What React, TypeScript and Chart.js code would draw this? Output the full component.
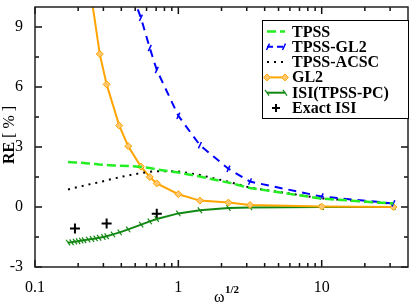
import React, { useEffect, useRef } from 'react';
import { Chart, registerables } from 'chart.js';

Chart.register(...registerables);

const FONT = '"Liberation Serif", "Times New Roman", serif';

// x values are omega^(1/2)
const X_FINE = [0.17, 0.18, 0.19, 0.2, 0.21, 0.22, 0.235, 0.25, 0.265, 0.28, 0.3, 0.316, 0.35, 0.39, 0.447, 0.55, 0.632, 0.707, 1, 1.414, 2.236, 3.162, 10, 31.62];
const TPSS = [2.25, 2.24, 2.23, 2.22, 2.21, 2.2, 2.18, 2.16, 2.15, 2.13, 2.11, 2.1, 2.08, 2.06, 2.05, 2.0, 1.95, 1.88, 1.72, 1.52, 1.22, 0.95, 0.42, 0.17];
const ACSC = [0.88, 0.92, 0.96, 1.0, 1.04, 1.07, 1.12, 1.16, 1.2, 1.24, 1.29, 1.33, 1.41, 1.49, 1.58, 1.7, 1.76, 1.79, 1.78, 1.6, 1.26, 0.97, 0.43, 0.17];
const ISI = [-1.78, -1.76, -1.73, -1.71, -1.68, -1.66, -1.63, -1.6, -1.57, -1.54, -1.5, -1.46, -1.37, -1.27, -1.12, -0.88, -0.72, -0.6, -0.32, -0.16, -0.05, -0.02, 0, 0];

const X_GL2 = [0.2, 0.283, 0.316, 0.387, 0.447, 0.548, 0.632, 0.707, 1, 1.414, 2.236, 3.162, 10, 31.62];
const GL2 = [15, 7.65, 6.13, 4.07, 3.04, 2.02, 1.5, 1.18, 0.64, 0.32, 0.22, 0.1, 0.02, 0];

const X_TGL2 = [0.447, 0.548, 0.632, 0.707, 1, 1.414, 2.236, 3.162, 10, 31.62];
const TGL2 = [11.2, 9.46, 7.95, 6.85, 4.56, 3.09, 1.91, 1.27, 0.52, 0.18];

const X_EXACT = [0.19, 0.316, 0.707];
const EXACT = [-1.08, -0.83, -0.34];

const X_MAJOR = [0.1, 1, 10];
const X_MINOR = [0.2, 0.3, 0.4, 0.5, 0.6, 0.7, 0.8, 0.9, 2, 3, 4, 5, 6, 7, 8, 9, 20, 30];
const Y_MAJOR = [-3, 0, 3, 6, 9];
const Y_MINOR = [-1.5, 1.5, 4.5, 7.5];

const LEGEND = ['TPSS', 'TPSS-GL2', 'TPSS-ACSC', 'GL2', 'ISI(TPSS-PC)', 'Exact ISI'];

const C_TPSS = '#22ee22';
const C_TGL2 = '#0000ff';
const C_ACSC = '#000000';
const C_GL2 = '#ffa500';
const C_ISI = '#118811';

function pts(xs: number[], ys: number[]) {
  return xs.map((x, i) => ({ x, y: ys[i] }));
}

function seg(ctx: CanvasRenderingContext2D, x1: number, y1: number, x2: number, y2: number) {
  ctx.beginPath();
  ctx.moveTo(x1, y1);
  ctx.lineTo(x2, y2);
  ctx.stroke();
}

function slash(ctx: CanvasRenderingContext2D, x: number, y: number, r: number, deg: number) {
  const a = (deg * Math.PI) / 180;
  seg(ctx, x - r * Math.cos(a), y - r * Math.sin(a), x + r * Math.cos(a), y + r * Math.sin(a));
}

function diamond(ctx: CanvasRenderingContext2D, x: number, y: number, r: number) {
  ctx.beginPath();
  ctx.moveTo(x, y - r);
  ctx.lineTo(x + r, y);
  ctx.lineTo(x, y + r);
  ctx.lineTo(x - r, y);
  ctx.closePath();
  ctx.fill();
  ctx.stroke();
}

function noPad(s: any) {
  s.paddingTop = 0;
  s.paddingBottom = 0;
  s.paddingLeft = 0;
  s.paddingRight = 0;
}

function xPix(xs: any, a: any, v: number) {
  const p = xs.getPixelForValue(v);
  if (Number.isFinite(p)) return p;
  const lo = Math.log10(xs.min);
  const hi = Math.log10(xs.max);
  return a.left + ((Math.log10(v) - lo) / (hi - lo)) * (a.right - a.left);
}

function yPix(ys: any, a: any, v: number) {
  const p = ys.getPixelForValue(v);
  if (Number.isFinite(p)) return p;
  return a.bottom - ((v - ys.min) / (ys.max - ys.min)) * (a.bottom - a.top);
}

const ticksPlugin = {
  id: 'inwardTicks',
  afterDatasetsDraw(chart: any) {
    const ctx: CanvasRenderingContext2D = chart.ctx;
    const a = chart.chartArea;
    const xs = chart.scales.x;
    const ys = chart.scales.y;
    ctx.save();
    ctx.globalAlpha = 1;
    ctx.globalCompositeOperation = 'source-over';
    ctx.fillStyle = '#111';
    const xv = X_MAJOR.concat(X_MINOR);
    for (let i = 0; i < xv.length; i++) {
      const v = xv[i];
      const len = i < X_MAJOR.length ? 7 : 4;
      const p = xPix(xs, a, v);
      ctx.fillRect(p - 0.75, a.bottom - len, 1.5, len);
      ctx.fillRect(p - 0.75, a.top, 1.5, len);
    }
    const yv = Y_MAJOR.concat(Y_MINOR);
    for (let i = 0; i < yv.length; i++) {
      const v = yv[i];
      const len = i < Y_MAJOR.length ? 7 : 4;
      const p = yPix(ys, a, v);
      ctx.fillRect(a.left, p - 0.75, len, 1.5);
      ctx.fillRect(a.right - len, p - 0.75, len, 1.5);
    }
    ctx.restore();
  },
};

const framePlugin = {
  id: 'frame',
  afterDraw(chart: any) {
    const ctx: CanvasRenderingContext2D = chart.ctx;
    const a = chart.chartArea;
    ctx.save();
    ctx.setLineDash([]);

    // frame
    ctx.strokeStyle = '#222';
    ctx.lineWidth = 1.5;
    ctx.strokeRect(a.left, a.top, a.right - a.left, a.bottom - a.top);

    // legend
    const bx = 262.5, by = 20.5, bw = 146, bh = 98;
    ctx.fillStyle = '#fff';
    ctx.fillRect(bx, by, bw, bh);
    ctx.strokeStyle = '#000';
    ctx.lineWidth = 1;
    ctx.strokeRect(bx, by, bw, bh);
    const x1 = 267, x2 = 285;
    LEGEND.forEach((label, i) => {
      const base = 36.5 + i * 15.3;
      const ly = base - 5;
      ctx.save();
      if (i === 0) {
        ctx.strokeStyle = C_TPSS; ctx.lineWidth = 2.5; ctx.setLineDash([9, 4]);
        seg(ctx, x1, ly, x2, ly);
      } else if (i === 1) {
        ctx.strokeStyle = C_TGL2; ctx.lineWidth = 2; ctx.setLineDash([6, 4]);
        seg(ctx, x1, ly, x2, ly);
        ctx.setLineDash([]); ctx.lineWidth = 1.5;
        slash(ctx, x1 + 1, ly, 3.5, -65);
        slash(ctx, x2 - 1, ly, 3.5, -65);
      } else if (i === 2) {
        ctx.strokeStyle = C_ACSC; ctx.lineWidth = 2; ctx.setLineDash([2, 5]);
        seg(ctx, x1, ly, x2, ly);
      } else if (i === 3) {
        ctx.strokeStyle = C_GL2; ctx.lineWidth = 2;
        seg(ctx, x1, ly, x2, ly);
        ctx.fillStyle = '#ffc870'; ctx.lineWidth = 1;
        diamond(ctx, x1, ly, 3.5);
        diamond(ctx, x2, ly, 3.5);
      } else if (i === 4) {
        ctx.strokeStyle = C_ISI; ctx.lineWidth = 2;
        seg(ctx, x1, ly, x2, ly);
        ctx.lineWidth = 1.2;
        slash(ctx, x1, ly, 3.5, 55);
        slash(ctx, x2, ly, 3.5, 55);
      } else {
        ctx.strokeStyle = '#000'; ctx.lineWidth = 2;
        seg(ctx, 276 - 4, ly, 276 + 4, ly);
        seg(ctx, 276, ly - 4, 276, ly + 4);
      }
      ctx.restore();
      ctx.fillStyle = '#000';
      ctx.font = `bold 16px ${FONT}`;
      ctx.textAlign = 'left';
      ctx.textBaseline = 'alphabetic';
      ctx.fillText(label, 292, base);
    });

    // y title
    ctx.save();
    ctx.translate(13.5, 135);
    ctx.rotate(-Math.PI / 2);
    ctx.fillStyle = '#000';
    ctx.textBaseline = 'alphabetic';
    ctx.textAlign = 'left';
    ctx.font = `bold 16px ${FONT}`;
    const w1 = ctx.measureText('RE').width;
    ctx.font = `16px ${FONT}`;
    const w2 = ctx.measureText(' [ % ]').width;
    const start = -(w1 + w2) / 2;
    ctx.font = `bold 16px ${FONT}`;
    ctx.fillText('RE', start, 0);
    ctx.font = `16px ${FONT}`;
    ctx.fillText(' [ % ]', start + w1, 0);
    ctx.restore();

    // x title
    ctx.fillStyle = '#000';
    ctx.textAlign = 'left';
    ctx.textBaseline = 'alphabetic';
    ctx.font = `16px ${FONT}`;
    ctx.fillText('ω', 214, 302);
    ctx.font = `bold 11px ${FONT}`;
    ctx.fillText('1/2', 225, 293);

    ctx.restore();
  },
};

export default function App() {
  const ref = useRef<HTMLCanvasElement | null>(null);
  useEffect(() => {
    if (!ref.current) return;
    const chart = new Chart(ref.current, {
      type: 'scatter',
      data: {
        datasets: [
          {
            label: 'TPSS',
            data: pts(X_FINE, TPSS),
            showLine: true,
            borderColor: C_TPSS,
            borderWidth: 2.5,
            borderDash: [9, 4],
            pointRadius: 0,
          },
          {
            label: 'TPSS-GL2',
            data: pts(X_TGL2, TGL2),
            showLine: true,
            borderColor: C_TGL2,
            borderWidth: 2,
            borderDash: [8, 6],
            pointStyle: 'line',
            pointRotation: -65,
            pointRadius: 3.5,
            pointBorderWidth: 1.5,
            pointBorderColor: C_TGL2,
          },
          {
            label: 'TPSS-ACSC',
            data: pts(X_FINE, ACSC),
            showLine: true,
            borderColor: C_ACSC,
            borderWidth: 2,
            borderDash: [2, 5],
            pointRadius: 0,
          },
          {
            label: 'GL2',
            data: pts(X_GL2, GL2),
            showLine: true,
            borderColor: C_GL2,
            borderWidth: 2,
            pointStyle: 'rectRot',
            pointRadius: 3.5,
            pointBorderWidth: 1,
            pointBorderColor: C_GL2,
            pointBackgroundColor: '#ffc870',
          },
          {
            label: 'ISI(TPSS-PC)',
            data: pts(X_FINE, ISI),
            showLine: true,
            borderColor: C_ISI,
            borderWidth: 2,
            pointStyle: 'line',
            pointRotation: 55,
            pointRadius: 3.5,
            pointBorderWidth: 1.2,
            pointBorderColor: C_ISI,
          },
          {
            label: 'Exact ISI',
            data: pts(X_EXACT, EXACT),
            showLine: false,
            pointStyle: 'cross',
            pointRadius: 5,
            pointBorderWidth: 2,
            pointBorderColor: '#000',
            borderColor: '#000',
          },
        ],
      },
      options: {
        animation: false,
        responsive: false,
        devicePixelRatio: 1,
        layout: { padding: { top: 2, right: 2, left: 0, bottom: 0 } },
        plugins: { legend: { display: false }, tooltip: { enabled: false } },
        scales: {
          x: {
            type: 'logarithmic',
            min: 0.1,
            max: 40,
            grid: { display: false },
            border: { display: false },
            afterBuildTicks: (s: any) => {
              s.ticks = X_MAJOR.map((v) => ({ value: v }));
            },
            afterFit: (s: any) => {
              s.height = 38;
              noPad(s);
            },
            ticks: {
              autoSkip: false,
              maxRotation: 0,
              padding: 3,
              color: '#000',
              font: { family: FONT, size: 16 },
              callback: (v: any) => String(v),
            },
          },
          y: {
            type: 'linear',
            min: -3,
            max: 10,
            grid: { display: false },
            border: { display: false },
            afterBuildTicks: (s: any) => {
              s.ticks = Y_MAJOR.map((v) => ({ value: v }));
            },
            afterFit: (s: any) => {
              s.width = 35;
              noPad(s);
            },
            ticks: {
              autoSkip: false,
              padding: 4,
              color: '#000',
              font: { family: FONT, size: 16 },
              callback: (v: any) => String(v),
            },
          },
        },
      },
      plugins: [ticksPlugin, framePlugin],
    } as any);
    return () => chart.destroy();
  }, []);
  return (
    <div style={{ position: 'fixed', left: 0, top: 0, width: 415, height: 305, background: '#fff' }}>
      <canvas ref={ref} width={415} height={305} style={{ width: 415, height: 305, display: 'block' }} />
    </div>
  );
}
